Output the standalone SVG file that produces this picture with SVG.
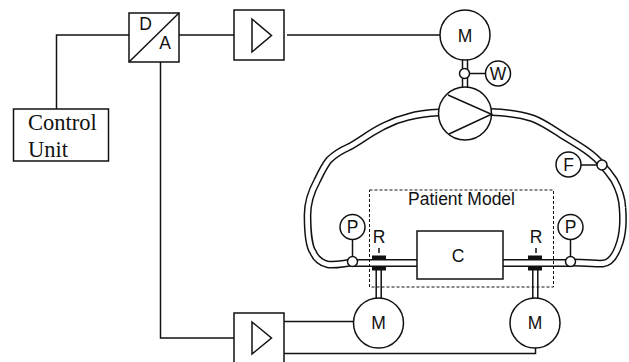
<svg xmlns="http://www.w3.org/2000/svg" width="629" height="362" viewBox="0 0 629 362">
<style>
.l{fill:none;stroke:#111;stroke-width:1.5}
.b{fill:#fff;stroke:#111;stroke-width:1.5}
.t{font-family:"Liberation Sans",Arial,sans-serif;font-size:17.500px;fill:#111;text-anchor:middle}
.s{font-family:"Liberation Serif",serif;font-size:22.500px;fill:#111}
.to{fill:none;stroke:#111;stroke-width:7.800}
.ti{fill:none;stroke:#fff;stroke-width:4.800}
.so{fill:none;stroke:#111;stroke-width:6.500}
.si{fill:none;stroke:#fff;stroke-width:3.500}
</style>
<rect width="629" height="362" fill="#fff"/>
<g id="connectors">
<path class="l" d="M56.500 109V35H129M179 35H234M287 35H440M160.500 62V338H234M284 321.500H353M284 353.500H535.500V348M465 73.500H498M568 165H602M352.500 240V257M570.500 240V257M379 253V248M536 253V248"/>
<path class="to" d="M439 112.500C425 113 415 115 408 117C395 120 390 123 382 127C370 133 360 141 349 147C340 151 334 155 329 160C324 166 321 173 317 181C311 192 307.500 202 307.500 215C307.500 235 310 248 313 252C316 259 321 263 328 264.500C336 265.500 345 263 353 262.500M491 112C505 112.500 520 114 533 118.500C545 123 555 131 565 137C580 146 595 155 602 165C607 170 610 174 614 180C619 189 622 197 622.500 208C623.500 220 623 232 620 242C616 255 610 263 603 263.500C595 264 590 262.500 570 262.500"/>
<path class="ti" d="M439 112.500C425 113 415 115 408 117C395 120 390 123 382 127C370 133 360 141 349 147C340 151 334 155 329 160C324 166 321 173 317 181C311 192 307.500 202 307.500 215C307.500 235 310 248 313 252C316 259 321 263 328 264.500C336 265.500 345 263 353 262.500M491 112C505 112.500 520 114 533 118.500C545 123 555 131 565 137C580 146 595 155 602 165C607 170 610 174 614 180C619 189 622 197 622.500 208C623.500 220 623 232 620 242C616 255 610 263 603 263.500C595 264 590 262.500 570 262.500"/>
<path class="to" d="M353 263H417M503 263H570"/>
<path class="ti" d="M352 263H417M503 263H571"/>
<path class="so" d="M465 59V88M378.700 268V299M535.300 268V299"/>
<path class="si" d="M465 59V88M378.700 268V299M535.300 268V299"/>
</g>
<g id="patient-model">
<rect x="369.500" y="190" width="184" height="97" fill="none" stroke="#111" stroke-width="1" stroke-dasharray="3 2"/>
<text class="t" x="461.500" y="205">Patient Model</text>
</g>
<g id="control-unit"><rect class="b" x="13.500" y="109" width="95" height="52"/><text class="s" x="28" y="130">Control</text><text class="s" x="28" y="157">Unit</text></g>
<g id="da"><rect class="b" x="129" y="13" width="50" height="49"/><path class="l" d="M129 62L179 13"/><text class="t" x="145.500" y="30">D</text><text class="t" x="165" y="49">A</text></g>
<g id="amp1"><rect class="b" x="234" y="10" width="50" height="50"/><path class="l" d="M252 19L271.500 35.500L252 52Z"/></g>
<g id="amp2"><rect class="b" x="234" y="313" width="50" height="52"/><path class="l" d="M252 322L271.500 338L252 354Z"/></g>
<g id="motor-top"><circle class="b" cx="465" cy="35" r="25"/><text class="t" x="465" y="42">M</text></g>
<g id="junction-w"><circle class="b" cx="464.500" cy="73.500" r="5"/></g>
<g id="w"><circle class="b" cx="498" cy="73.500" r="12.500"/><text class="t" x="498" y="79.500">W</text></g>
<g id="pump"><circle class="b" cx="465" cy="113.500" r="26.500"/><path class="l" d="M448 95L491.500 114.300L449 134"/></g>
<g id="f"><circle class="b" cx="568.500" cy="164.500" r="12.500"/><text class="t" x="568.500" y="170.500">F</text></g>
<g id="junction-f"><circle class="b" cx="602" cy="165" r="5"/></g>
<g id="p-left"><circle class="b" cx="352.500" cy="227" r="12.500"/><text class="t" x="352.500" y="233">P</text></g>
<g id="junction-pl"><circle class="b" cx="352.500" cy="261.500" r="5"/></g>
<g id="p-right"><circle class="b" cx="570.500" cy="227" r="12.500"/><text class="t" x="570.500" y="233">P</text></g>
<g id="junction-pr"><circle class="b" cx="570.500" cy="261.500" r="5"/></g>
<g id="c"><rect class="b" x="417" y="231" width="86" height="48"/><text class="t" x="458" y="262">C</text></g>
<g id="r-left"><rect x="372" y="255.500" width="14" height="4" fill="#111"/><rect x="372" y="266.500" width="14" height="4" fill="#111"/><text class="t" x="379" y="243">R</text></g>
<g id="r-right"><rect x="528" y="255.500" width="14" height="4" fill="#111"/><rect x="528" y="266.500" width="14" height="4" fill="#111"/><text class="t" x="536" y="243">R</text></g>
<g id="motor-l"><circle class="b" cx="378.500" cy="323" r="25"/><text class="t" x="378.500" y="329">M</text></g>
<g id="motor-r"><circle class="b" cx="535" cy="323" r="25"/><text class="t" x="535" y="329">M</text></g>
</svg>
